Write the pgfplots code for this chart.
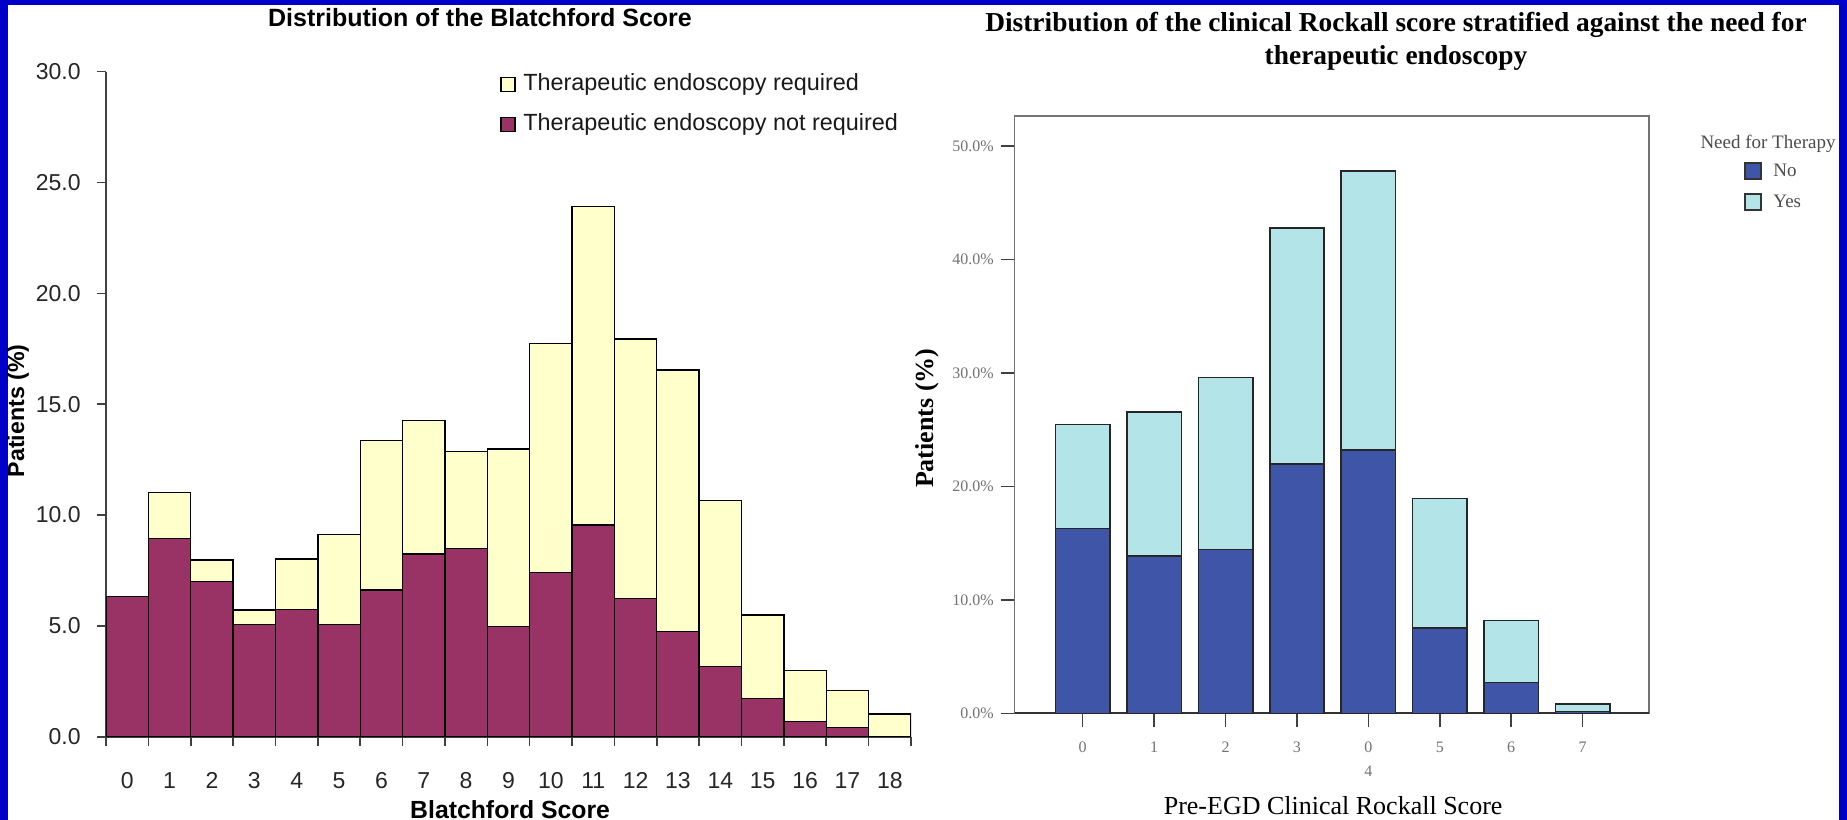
\documentclass[border=0pt]{standalone}
\usepackage{pgfplots}
\pgfplotsset{compat=1.18}
\usepackage{fontspec}
\setmainfont{Liberation Sans}
\newfontfamily\ser{Liberation Serif}
\definecolor{frameblue}{RGB}{0,0,200}
\definecolor{plum}{HTML}{993366}
\definecolor{lyellow}{HTML}{FFFFCC}
\definecolor{noblue}{HTML}{3F56A8}
\definecolor{yescyan}{HTML}{B3E5E8}
\begin{document}
\begin{tikzpicture}
\useasboundingbox (0,0) rectangle (923.5bp,410bp);
\fill[frameblue] (0,0) rectangle (923.5bp,410bp);
\fill[white] (4bp,0) rectangle (919.5bp,407.5bp);
% ---------------- left chart ----------------
\begin{axis}[
  at={(53bp,41.65bp)}, anchor=south west,
  scale only axis, width=402.5bp, height=332.5bp,
  ybar stacked, bar width=1,
  xmin=-0.5, xmax=18.5, ymin=0, ymax=30,
  axis lines=left,
  axis line style={-, draw=black!75, line width=0.8bp},
  xtick={-0.5,0.5,...,18.5},
  x tick label as interval,
  xticklabels={0,1,2,3,4,5,6,7,8,9,10,11,12,13,14,15,16,17,18},
  ytick={0,5,...,30},
  tick align=outside, major tick length=4.5bp,
  tick style={draw=black!75, line width=0.8bp},
  yticklabel={\pgfmathprintnumber[fixed,fixed zerofill,precision=1]{\tick}},
  /pgf/number format/assume math mode=true,
  tick label style={font=\fontsize{11.5bp}{13bp}\selectfont, text=black!85},
  xticklabel style={yshift=-10bp},
  yticklabel style={xshift=-4.7bp},
  xlabel={Blatchford Score}, ylabel={Patients (\%)},
  label style={font=\fontsize{12.4bp}{14bp}\selectfont\bfseries},
  xlabel style={at={(axis description cs:0.502,-0.1223)}, anchor=base},
  ylabel style={font=\fontsize{11.6bp}{14bp}\selectfont\bfseries, at={(axis description cs:-0.1093,0.49)}, anchor=center},
  legend image code/.code={\draw[#1] (0bp,-3.5bp) rectangle (7bp,3.5bp);},
  reverse legend,
  legend style={at={(axis description cs:0.4894,0.998)}, anchor=north west,
    draw=none, fill=none, inner sep=0pt, row sep=9bp,
    font=\fontsize{11.7bp}{13bp}\selectfont, text=black!90,
    nodes={inner sep=0pt, text height=8.5bp, text depth=2.5bp},
    /tikz/every odd column/.append style={column sep=3.8bp}},
  legend cell align=left,
]
\addplot[fill=plum, draw=black, line width=0.7bp] coordinates {
(0,6.32) (1,8.95) (2,6.99) (3,5.07) (4,5.74) (5,5.07) (6,6.62) (7,8.24) (8,8.50) (9,4.96)
(10,7.40) (11,9.55) (12,6.24) (13,4.74) (14,3.16) (15,1.73) (16,0.68) (17,0.41) (18,0)};
\addlegendentry{Therapeutic endoscopy not required}
\addplot[fill=lyellow, draw=black, line width=0.7bp] coordinates {
(0,0) (1,2.06) (2,0.98) (3,0.64) (4,2.28) (5,4.06) (6,6.73) (7,6.02) (8,4.36) (9,8.02)
(10,10.35) (11,14.36) (12,11.70) (13,11.80) (14,7.49) (15,3.76) (16,2.30) (17,1.67) (18,1.02)};
\addlegendentry{Therapeutic endoscopy required}
\end{axis}
\node[anchor=base, font=\fontsize{12.5bp}{14bp}\selectfont\bfseries] at (240bp,396.5bp) {Distribution of the Blatchford Score};
% ---------------- right chart ----------------
\begin{axis}[
  at={(507.35bp,53.35bp)}, anchor=south west,
  scale only axis, width=317.15bp, height=298.65bp,
  ybar stacked, bar width=0.762,
  xmin=-0.952, xmax=7.93, ymin=0, ymax=52.63,
  axis line style={draw=black!55, line width=0.6bp},
  xtick={0,1,...,7},
  xticklabels={0,1,2,3,{0\\4},5,6,7},
  xticklabel style={align=center, yshift=-4bp},
  ytick={0,10,...,50},
  yticklabel={\pgfmathprintnumber[fixed,fixed zerofill,precision=1]{\tick}\%},
  /pgf/number format/assume math mode=true,
  xtick pos=bottom, ytick pos=left,
  tick align=outside, major tick length=7bp,
  tick style={draw=black!75, line width=0.8bp},
  tick label style={font=\ser\fontsize{8bp}{12bp}\selectfont, text=black!55},
  xlabel={Pre-EGD Clinical Rockall Score}, ylabel={Patients (\%)},
  xlabel style={font=\ser\fontsize{13bp}{15bp}\selectfont, at={(axis description cs:0.502,-0.1686)}, anchor=base},
  ylabel style={font=\ser\fontsize{13bp}{15bp}\selectfont\bfseries, at={(axis description cs:-0.138,0.494)}, anchor=center},
  legend image code/.code={\draw[#1, draw=black!80, line width=1bp] (0bp,-4bp) rectangle (8bp,4bp);},
  legend style={at={(axis description cs:1.1498,0.923)}, anchor=north west,
    draw=none, fill=none, inner sep=0pt, row sep=6.5bp,
    font=\ser\fontsize{9.5bp}{11bp}\selectfont, text=black!70,
    nodes={inner sep=0pt, text height=7bp, text depth=2bp},
    /tikz/every odd column/.append style={column sep=5.5bp}},
  legend cell align=left,
]
\addplot[fill=noblue, draw=black!85, line width=0.8bp] coordinates {
(0,16.3) (1,13.86) (2,14.45) (3,21.94) (4,23.2) (5,7.49) (6,2.7) (7,0.15)};
\addlegendentry{No}
\addplot[fill=yescyan, draw=black!85, line width=0.8bp] coordinates {
(0,9.16) (1,12.71) (2,15.15) (3,20.84) (4,24.6) (5,11.45) (6,5.49) (7,0.67)};
\addlegendentry{Yes}
\draw[black!80, line width=1.2bp] (axis description cs:-0.0184,0) -- (axis description cs:1,0);
\end{axis}
\node[anchor=base, font=\ser\fontsize{13.7bp}{15bp}\selectfont\bfseries] at (698bp,394bp) {Distribution of the clinical Rockall score stratified against the need for};
\node[anchor=base, font=\ser\fontsize{13.7bp}{15bp}\selectfont\bfseries] at (698bp,377.5bp) {therapeutic endoscopy};
\node[anchor=base, font=\ser\fontsize{9.5bp}{11bp}\selectfont, text=black!70] at (884bp,335.5bp) {Need for Therapy};
\end{tikzpicture}
\end{document}
